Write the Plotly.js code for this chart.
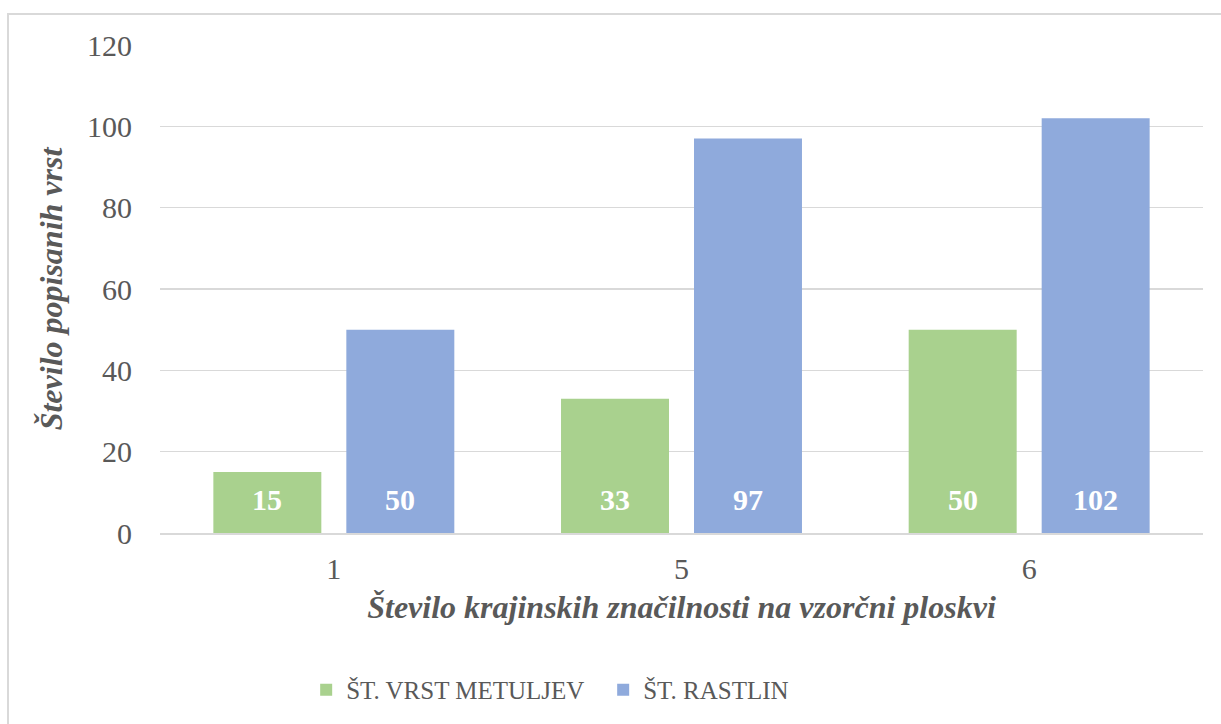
<!DOCTYPE html>
<html>
<head>
<meta charset="utf-8">
<script src="https://cdn.plot.ly/plotly-3.0.1.min.js"></script>
<style>
html,body{margin:0;padding:0;background:#fff;}
#frame{position:absolute;left:7px;top:13px;width:1220px;height:720px;border:2px solid #d9d9d9;box-sizing:border-box;}
#chart{position:absolute;left:0;top:0;width:1221px;height:724px;}
</style>
</head>
<body>
<div id="frame"></div>
<div id="chart"></div>
<script>
const categories = ['1', '5', '6'];
const butterflies = [15, 33, 50];
const plants = [50, 97, 102];
const seriesNames = ['ŠT. VRST METULJEV', 'ŠT. RASTLIN'];
const yTicks = [0, 20, 40, 60, 80, 100, 120];

const font = '"Liberation Serif"';
const colors = ['#a9d18e', '#8faadc'];
const seriesValues = [butterflies, plants];

const data = seriesValues.map((vals, i) => ({
  type: 'bar', name: seriesNames[i], x: categories, y: vals,
  marker: {color: colors[i], line: {width: 0}},
  hoverinfo: 'none'
}));

// value labels near the bar base; x is the category index on the category axis,
// shifted by half a bar slot to sit on each bar of the group
const annotations = [];
seriesValues.forEach((vals, i) => {
  vals.forEach((v, j) => {
    annotations.push({
      xref: 'x', yref: 'y', x: j, y: 0,
      xshift: (i === 0 ? -1 : 1) * 66.5, yshift: 34,
      text: '<b>' + v + '</b>', showarrow: false,
      xanchor: 'center', yanchor: 'middle',
      font: {family: font, size: 30, color: '#ffffff'}
    });
  });
});

const layout = {
  width: 1221, height: 724,
  paper_bgcolor: 'rgba(0,0,0,0)', plot_bgcolor: 'rgba(0,0,0,0)',
  margin: {l: 160, r: 18, t: 45, b: 191},
  barmode: 'group', bargap: 0.235, bargroupgap: 0.188,
  font: {family: font, color: '#595959', size: 28},
  annotations: annotations,
  xaxis: {
    type: 'category', showgrid: false, zeroline: false, automargin: false,
    range: [-0.5, categories.length - 0.5],
    showline: true, linecolor: '#d9d9d9', linewidth: 2,
    ticks: '', tickfont: {family: font, size: 30, color: '#595959'},
    ticklabelstandoff: 8,
    title: {text: 'Število krajinskih značilnosti na vzorčni ploskvi',
      font: {family: font, size: 32, color: '#595959', weight: 'bold', style: 'italic'},
      standoff: 12}
  },
  yaxis: {
    range: [0, 120], tickvals: yTicks, ticktext: yTicks.map(String), automargin: false,
    showgrid: true, gridcolor: '#d9d9d9', gridwidth: 1.5, zeroline: false,
    ticks: '', ticklen: 0, tickfont: {family: font, size: 30, color: '#595959'},
    ticklabelstandoff: 27,
    title: {text: 'Število popisanih vrst',
      font: {family: font, size: 32, color: '#595959', weight: 'bold', style: 'italic'},
      standoff: 14}
  },
  legend: {orientation: 'h', x: 0.494, xanchor: 'center', xref: 'container',
    y: 0.047, yanchor: 'middle', yref: 'container',
    font: {family: '"Liberation Serif", serif', size: 25, color: '#595959'}, itemwidth: 30,
    entrywidth: 252, entrywidthmode: 'pixels',
    bgcolor: 'rgba(0,0,0,0)'},
  showlegend: true
};

Plotly.newPlot('chart', data, layout, {displayModeBar: false, staticPlot: true});
</script>
</body>
</html>
